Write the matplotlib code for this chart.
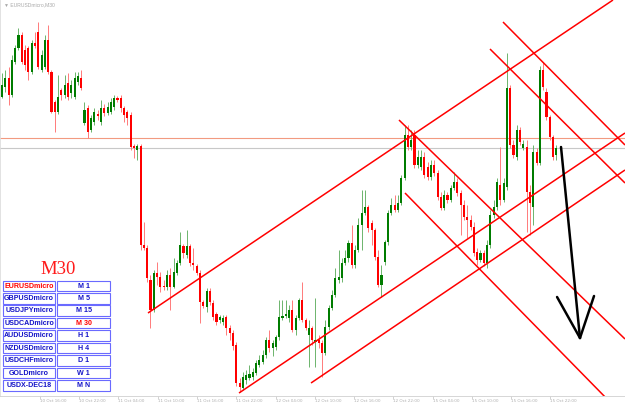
import numpy as np
import matplotlib
matplotlib.use('Agg')
import matplotlib.pyplot as plt
from matplotlib.patches import Rectangle

# EURUSDmicro M30 candles, in points (price x 10000)
open_pts = [11503, 11513, 11522, 11505, 11538, 11552, 11565, 11550, 11552, 11528,
            11557, 11568, 11530, 11533, 11560, 11528, 11498, 11488, 11510, 11505,
            11517, 11507, 11503, 11518, 11522, 11477, 11492, 11470, 11478, 11486,
            11478, 11492, 11487, 11488, 11493, 11502, 11502, 11492, 11488, 11485,
            11454, 11450, 11454, 11355, 11352, 11320, 11290, 11327, 11323, 11314,
            11313, 11325, 11313, 11327, 11337, 11354, 11345, 11354, 11337, 11334,
            11327, 11298, 11293, 11309, 11297, 11286, 11280, 11278, 11283, 11272,
            11267, 11255, 11217, 11212, 11220, 11222, 11223, 11227, 11235, 11238,
            11245, 11260, 11252, 11253, 11263, 11282, 11284, 11282, 11290, 11270,
            11282, 11300, 11280, 11265, 11272, 11258, 11260, 11257, 11247, 11273,
            11292, 11305, 11320, 11322, 11337, 11342, 11357, 11335, 11350, 11375,
            11387, 11393, 11377, 11370, 11343, 11315, 11338, 11358, 11387, 11395,
            11390, 11397, 11422, 11465, 11453, 11465, 11435, 11433, 11443, 11433,
            11423, 11435, 11427, 11403, 11392, 11405, 11400, 11412, 11418, 11407,
            11395, 11383, 11380, 11373, 11348, 11340, 11347, 11337, 11355, 11385,
            11393, 11415, 11400, 11413, 11512, 11455, 11443, 11470, 11452, 11453,
            11408, 11393, 11448, 11437, 11530, 11508, 11483, 11463, 11445]
close_pts = [11515, 11522, 11505, 11540, 11552, 11565, 11538, 11535, 11528, 11557,
             11554, 11533, 11545, 11560, 11528, 11488, 11488, 11503, 11505, 11515,
             11503, 11515, 11522, 11524, 11512, 11490, 11468, 11482, 11488, 11484,
             11492, 11487, 11493, 11498, 11502, 11500, 11492, 11485, 11482, 11453,
             11452, 11454, 11355, 11352, 11322, 11290, 11327, 11323, 11313, 11313,
             11325, 11313, 11328, 11337, 11355, 11347, 11354, 11337, 11335, 11327,
             11298, 11294, 11309, 11298, 11283, 11278, 11283, 11282, 11272, 11267,
             11254, 11217, 11213, 11223, 11225, 11226, 11228, 11237, 11240, 11245,
             11260, 11252, 11257, 11263, 11283, 11284, 11286, 11290, 11270, 11282,
             11300, 11280, 11272, 11272, 11260, 11260, 11257, 11247, 11273, 11292,
             11305, 11322, 11323, 11337, 11342, 11357, 11335, 11350, 11375, 11387,
             11393, 11372, 11370, 11343, 11315, 11325, 11358, 11387, 11395, 11390,
             11397, 11422, 11465, 11453, 11460, 11435, 11443, 11443, 11425, 11423,
             11435, 11427, 11403, 11392, 11405, 11400, 11412, 11418, 11407, 11395,
             11383, 11380, 11373, 11347, 11340, 11347, 11337, 11355, 11385, 11393,
             11418, 11400, 11417, 11512, 11455, 11445, 11470, 11458, 11456, 11408,
             11397, 11448, 11437, 11530, 11513, 11483, 11463, 11443, 11452]
high_pts = [11527, 11530, 11533, 11545, 11555, 11572, 11568, 11555, 11554, 11560,
            11568, 11578, 11550, 11565, 11575, 11530, 11500, 11525, 11512, 11525,
            11527, 11520, 11528, 11528, 11530, 11498, 11495, 11485, 11492, 11490,
            11500, 11496, 11498, 11502, 11505, 11504, 11505, 11494, 11490, 11488,
            11456, 11456, 11456, 11378, 11355, 11325, 11330, 11338, 11328, 11320,
            11330, 11332, 11342, 11340, 11368, 11356, 11370, 11356, 11352, 11336,
            11330, 11300, 11312, 11312, 11300, 11288, 11285, 11285, 11285, 11275,
            11270, 11258, 11222, 11228, 11230, 11235, 11232, 11240, 11245, 11250,
            11263, 11270, 11260, 11265, 11300, 11300, 11300, 11295, 11300, 11285,
            11302, 11318, 11282, 11280, 11274, 11302, 11265, 11260, 11280, 11295,
            11310, 11332, 11350, 11342, 11350, 11360, 11375, 11355, 11382, 11410,
            11410, 11395, 11380, 11372, 11350, 11335, 11360, 11390, 11402, 11405,
            11405, 11425, 11475, 11475, 11470, 11470, 11450, 11450, 11448, 11438,
            11440, 11440, 11430, 11408, 11410, 11408, 11415, 11428, 11422, 11410,
            11400, 11395, 11385, 11378, 11352, 11350, 11350, 11360, 11390, 11400,
            11422, 11453, 11422, 11547, 11515, 11460, 11475, 11473, 11460, 11460,
            11415, 11455, 11452, 11534, 11538, 11512, 11485, 11465, 11455]
low_pts = [11502, 11508, 11495, 11503, 11536, 11550, 11536, 11530, 11520, 11526,
           11552, 11531, 11528, 11531, 11526, 11487, 11468, 11486, 11500, 11502,
           11500, 11502, 11501, 11515, 11510, 11475, 11462, 11468, 11475, 11480,
           11475, 11484, 11485, 11486, 11490, 11498, 11488, 11478, 11475, 11450,
           11442, 11440, 11350, 11350, 11318, 11272, 11288, 11315, 11308, 11310,
           11310, 11290, 11312, 11325, 11335, 11342, 11342, 11334, 11330, 11325,
           11277, 11292, 11288, 11295, 11280, 11275, 11277, 11275, 11265, 11260,
           11250, 11214, 11208, 11210, 11216, 11220, 11220, 11225, 11233, 11236,
           11242, 11248, 11244, 11250, 11260, 11280, 11282, 11278, 11268, 11265,
           11280, 11278, 11270, 11233, 11255, 11233, 11252, 11223, 11245, 11270,
           11290, 11303, 11317, 11318, 11335, 11338, 11332, 11332, 11348, 11350,
           11385, 11368, 11355, 11340, 11313, 11303, 11335, 11355, 11385, 11388,
           11388, 11395, 11420, 11450, 11450, 11432, 11432, 11430, 11422, 11420,
           11420, 11424, 11400, 11390, 11390, 11397, 11398, 11410, 11404, 11365,
           11380, 11362, 11370, 11344, 11335, 11338, 11334, 11332, 11352, 11382,
           11390, 11395, 11398, 11410, 11452, 11442, 11440, 11455, 11450, 11368,
           11365, 11375, 11435, 11435, 11510, 11480, 11460, 11440, 11440]

# horizontal price levels
level_pts = [11462.5, 11452]
level_colors = ['#f29a80', '#c8c8c8']

# hand drawn trend lines, (bar index, points) of both ends
trend_x = [(44.24, 185.15), (71.82, 188.79), (93.64, 188.79),
           (122.12, 184.24), (120.3, 188.79), (151.82, 188.79), (147.88, 188.79)]
trend_y = [(11287, 11600), (11207, 11467), (11217, 11430),
           (11407, 11198), (11480, 11261), (11578, 11455), (11551, 11417)]

# black arrow
arrow_x = [(169.4, 175.15), (168.2, 175.15), (179.4, 175.15)]
arrow_y = [(11453, 11262), (11303, 11262), (11304, 11262)]

tick_bars = [11.5, 23.4, 35.3, 47.2, 59.1, 71.0, 82.9, 94.8, 106.7, 118.6,
             130.5, 142.4, 154.3, 166.2]
tick_labels = ['10 Oct 16:00', '10 Oct 22:00', '11 Oct 04:00', '11 Oct 10:00',
               '11 Oct 16:00', '11 Oct 22:00', '12 Oct 04:00', '12 Oct 10:00',
               '12 Oct 16:00', '12 Oct 22:00', '15 Oct 04:00', '15 Oct 10:00',
               '15 Oct 16:00', '15 Oct 22:00']

symbols = ['EURUSDmicro', 'GBPUSDmicro', 'USDJPYmicro', 'USDCADmicro', 'AUDUSDmicro',
           'NZDUSDmicro', 'USDCHFmicro', 'GOLDmicro', 'USDX-DEC18']
periods = ['M 1', 'M 5', 'M 15', 'M 30', 'H 1', 'H 4', 'D 1', 'W 1', 'M N']
active_symbol = 'EURUSDmicro'
active_period = 'M 30'


def draw_candles(ax):
	o = np.array(open_pts) / 1e4
	c = np.array(close_pts) / 1e4
	h = np.maximum(np.array(high_pts) / 1e4, np.maximum(o, c))
	l = np.minimum(np.array(low_pts) / 1e4, np.minimum(o, c))
	idx = np.arange(len(o))
	up = c > o
	ax.vlines(idx[up], l[up], h[up], color='#6cb46c', lw=0.7, zorder=1)
	ax.vlines(idx[~up], l[~up], h[~up], color='#ff7a7a', lw=0.7, zorder=1)
	body = c - o
	body = np.where(np.abs(body) < 0.00006, -0.00006, body)
	ax.bar(idx[up], body[up], bottom=o[up], width=0.62, color='#007c00', lw=0, zorder=2)
	ax.bar(idx[~up], body[~up], bottom=o[~up], width=0.62, color='#ff0000', lw=0, zorder=2)


def draw_table(ov):
	top = 280.5
	for k, (sym, per) in enumerate(zip(symbols, periods)):
		y = top + k * 12.45
		for x0, w, label, active in [(3.3, 51.7, sym, sym == active_symbol),
		                             (57.3, 52.7, per, per == active_period)]:
			ov.add_patch(Rectangle((x0, y), w, 10.6, facecolor='white',
			                       edgecolor='#6a6aff', lw=0.8))
			ov.text(x0 + w / 2, y + 5.6, label, ha='center', va='center',
			        fontsize=5.1, fontweight='bold', family='Liberation Sans',
			        color='#ff0000' if active else '#1414c8')
	ov.text(58, 270, 'M30', ha='center', va='center', fontsize=13.5,
	        family='Liberation Serif', color='#ff1a1a')


fig = plt.figure(figsize=(6.25, 4.05), dpi=100)
ax = fig.add_axes([0, 9 / 405, 1, 396 / 405])
ax.set_xlim(-0.606, 188.79)
ax.set_ylim(1.1204, 1.1600)

for lv, col in zip(level_pts, level_colors):
	ax.axhline(lv / 1e4, color=col, lw=0.8, zorder=0.5)

draw_candles(ax)

for xs, ys in zip(trend_x, trend_y):
	ax.plot(xs, np.array(ys) / 1e4, color='#ff0000', lw=1.1, zorder=3,
	        solid_capstyle='butt')

for xs, ys in zip(arrow_x, arrow_y):
	ax.plot(xs, np.array(ys) / 1e4, color='black', lw=1.8, zorder=4,
	        solid_capstyle='round')

ax.set_yticks([])
ax.set_xticks(tick_bars)
ax.set_xticklabels(tick_labels, ha='left', fontsize=3, color='#b0b0b0')
ax.tick_params(axis='x', length=2, width=0.5, color='#c0c0c0', pad=0.5)
for side in ['top', 'right']:
	ax.spines[side].set_visible(False)
ax.spines['left'].set_color('#dddddd')
ax.spines['left'].set_linewidth(0.6)
ax.spines['bottom'].set_color('#d0d0d0')
ax.spines['bottom'].set_linewidth(0.6)

ov = fig.add_axes([0, 0, 1, 1])
ov.set_xlim(0, 625)
ov.set_ylim(405, 0)
ov.axis('off')
ov.patch.set_alpha(0)
ov.text(4, 5, '\u25bc EURUSDmicro,M30', ha='left', va='center', fontsize=3.6,
        family=['Liberation Sans', 'DejaVu Sans'], color='#a8a8a8')
draw_table(ov)

fig.savefig('out.png', dpi=100)
